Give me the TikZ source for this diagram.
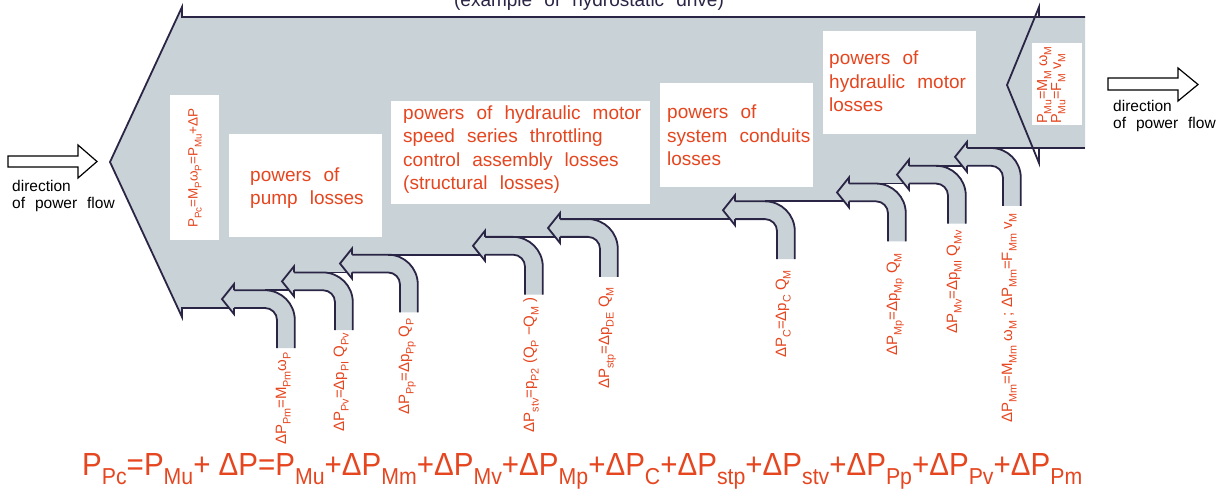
\documentclass[tikz,border=0pt]{standalone}
\usepackage{fontspec}
\setmainfont{Liberation Sans}[WordSpace=2.3]
\newfontfamily\lblfont{Liberation Sans}
\definecolor{bandgray}{HTML}{C8D2D7}
\definecolor{edgecol}{HTML}{2A2545}
\definecolor{txtred}{HTML}{E5461F}
\newcommand\sbs[1]{\raisebox{-0.3em}{\scalebox{0.72}{#1}}}
\newcommand\bandsetup{%
  \pgfmathsetmacro\Lt{308-17.78*\bi}%
  \pgfmathsetmacro\Lb{\Lt+17.78}%
  \pgfmathsetmacro\Cy{\Lt+8.89}%
  \pgfmathsetmacro\Bx{\tp+12}%
  \pgfmathsetmacro\Ey{\Lb+40}%
  \pgfmathsetmacro\Ca{\X-12}%
  \pgfmathsetmacro\Xo{\X+17.78}%
}
\newcommand\banddata{1/222/277/294, 2/282/335/352, 3/340/400/485, 4/473/525/560, 5/548/600/735, 6/723/777/849, 7/837/888/909, 8/897/948/967, 9/955/1003/1085}
\begin{document}
\begin{tikzpicture}[x=1pt,y=-1pt,line join=miter,
  boxtxt/.style={anchor=base west,inner sep=0pt,text=txtred,font=\fontsize{19}{23}\selectfont},
  lbl/.style={rotate=90,anchor=base east,inner sep=0pt,text=txtred,font=\lblfont\fontsize{15}{16}\selectfont},
  rtxt/.style={rotate=90,inner sep=0pt,text=txtred,font=\lblfont\fontsize{14.5}{16}\selectfont},
  dirtxt/.style={anchor=base west,inner sep=0pt,text=black,font=\fontsize{15.5}{18}\selectfont},
  outl/.style={draw=edgecol,line width=1.8pt},
  hollow/.style={draw=black,line width=1.2pt,fill=white}]
\useasboundingbox (0,0) rectangle (1220,491);

% main body fill
\fill[bandgray] (182,17) -- (1085,17) -- (1085,148) -- (967,148) -- (967,165.76) -- (909,165.76)
  -- (909,183.54) -- (849,183.54) -- (849,201.32) -- (735,201.32) -- (735,219.1) -- (560,219.1)
  -- (560,236.88) -- (485,236.88) -- (485,254.66) -- (352,254.66) -- (352,272.44) -- (294,272.44)
  -- (294,290.22) -- (234,290.22) -- (234,308) -- (182,308) -- (182,317) -- (110,162) -- (182,7) -- cycle;

% band fills
\foreach \bi/\tp/\X/\nb in \banddata {\bandsetup
  \fill[bandgray] (\Bx,\Lt) -- (\Ca,\Lt) .. controls (\Ca+16.45,\Lt) and (\Xo,\Lt+13.33) .. (\Xo,\Lt+29.78)
    -- (\Xo,\Ey) -- (\X,\Ey) -- (\X,\Lb+12) .. controls (\X,\Lb+5.37) and (\Ca+6.63,\Lb) .. (\Ca,\Lb)
    -- (\Bx,\Lb) -- cycle;
}

% outlines
\draw[outl] (1085,17) -- (182,17) -- (182,7) -- (110,162) -- (182,317) -- (182,308) -- (234,308);
\draw[outl] (1039,17) -- (1039,7) -- (1007,85) -- (1039,163) -- (1039,148);
\foreach \bi/\tp/\X/\nb in \banddata {\bandsetup
  \draw[outl] (\Bx,\Lb) -- (\Ca,\Lb) .. controls (\Ca+6.63,\Lb) and (\X,\Lb+5.37) .. (\X,\Lb+12) -- (\X,\Ey);
  \draw[outl] (\Bx,\Lt) -- (\Ca,\Lt) .. controls (\Ca+16.45,\Lt) and (\Xo,\Lt+13.33) .. (\Xo,\Lt+29.78) -- (\Xo,\Ey);
  \draw[outl] (\Ca,\Lt) -- (\nb,\Lt);
}
% arrow heads
\foreach \bi/\tp/\X/\nb in \banddata {\bandsetup
  \fill[bandgray] (\Bx,\Cy-15) -- (\tp,\Cy) -- (\Bx,\Cy+15) -- cycle;
  \draw[outl] (\Bx,\Lt) -- (\Bx,\Cy-15) -- (\tp,\Cy) -- (\Bx,\Cy+15) -- (\Bx,\Lb);
}

% white boxes
\fill[white] (170,95) rectangle (219,240);
\fill[white] (229,134) rectangle (382,237);
\fill[white] (391,101) rectangle (650,204);
\fill[white] (660,83) rectangle (813,187);
\fill[white] (823,31) rectangle (976,134);
\fill[white] (1032,43) rectangle (1082,125);

% title (cut off at the top, as in the reference)
\node[anchor=base,inner sep=0pt,text=edgecol,font=\fontsize{19}{23}\selectfont] (title) at (589,6) {(example of hydrostatic drive)};

% box texts
\node[rtxt,font=\lblfont\fontsize{13.5}{16}\selectfont] (pa) at (195,168) {P\sbs{Pc}=M\sbs{P}ω\sbs{P}=P\sbs{Mu}+ΔP};
\node[boxtxt] (b1) at (250,181) {powers of};
\node[boxtxt] (b2) at (250,204) {pump losses};
\node[boxtxt] (c1) at (403,119) {powers of hydraulic motor};
\node[boxtxt] (c2) at (403,142.5) {speed series throttling};
\node[boxtxt] (c3) at (403,166) {control assembly losses};
\node[boxtxt] (c4) at (403,189.5) {(structural losses)};
\node[boxtxt] (d1) at (667,118) {powers of};
\node[boxtxt] (d2) at (667,142) {system conduits};
\node[boxtxt] (d3) at (667,165) {losses};
\node[boxtxt] (e1) at (829,64) {powers of};
\node[boxtxt] (e2) at (829,88) {hydraulic motor};
\node[boxtxt] (e3) at (829,111) {losses};
\node[rtxt,anchor=base west] (f1) at (1047,124) {P\sbs{Mu}=M\sbs{M} ω\sbs{M}};
\node[rtxt,anchor=base west] (f2) at (1061,124) {P\sbs{Mu}=F\sbs{M} v\sbs{M}};

% loss labels
\node[lbl] (l1) at (286,352) {ΔP\sbs{Pm}=M\sbs{Pm}ω\sbs{P}};
\node[lbl] (l2) at (344,333) {ΔP\sbs{Pv}=Δp\sbs{PI} Q\sbs{Pv}};
\node[lbl] (l3) at (409,318) {ΔP\sbs{Pp}=Δp\sbs{Pp} Q\sbs{P}};
\node[lbl] (l4) at (534,297) {ΔP\sbs{stv}=p\sbs{P2} (Q\sbs{P} −Q\sbs{M} )};
\node[lbl] (l5) at (609,287) {ΔP\sbs{stp}=Δp\sbs{DE} Q\sbs{M}};
\node[lbl] (l6) at (786,270) {ΔP\sbs{C}=Δp\sbs{C} Q\sbs{M}};
\node[lbl] (l7) at (897,253) {ΔP\sbs{Mp}=Δp\sbs{Mp} Q\sbs{M}};
\node[lbl] (l8) at (957,230) {ΔP\sbs{Mv}=Δp\sbs{MI} Q\sbs{Mv}};
\node[lbl] (l9) at (1012,213) {ΔP\sbs{Mm}=M\sbs{Mm} ω\sbs{M} ; ΔP\sbs{Mm}=F\sbs{Mm} v\sbs{M}};

% direction of power flow
\draw[hollow] (8,156) -- (78,156) -- (78,145) -- (97,161.5) -- (78,178) -- (78,167) -- (8,167) -- cycle;
\node[dirtxt] (dl1) at (12,191) {direction};
\node[dirtxt] (dl2) at (12,208) {of power flow};
\draw[hollow] (1108,78) -- (1178,78) -- (1178,68) -- (1198,84.5) -- (1178,101) -- (1178,90) -- (1108,90) -- cycle;
\node[dirtxt] (dr1) at (1113,111) {direction};
\node[dirtxt] (dr2) at (1113,128) {of power flow};

% balance equation
\node[anchor=base west,inner sep=0pt,text=txtred,font=\lblfont\fontsize{32}{36}\selectfont] (eq) at (82,475)
  {\resizebox{1000pt}{\height}{P\sbs{Pc}=P\sbs{Mu}+ ΔP=P\sbs{Mu}+ΔP\sbs{Mm}+ΔP\sbs{Mv}+ΔP\sbs{Mp}+ΔP\sbs{C}+ΔP\sbs{stp}+ΔP\sbs{stv}+ΔP\sbs{Pp}+ΔP\sbs{Pv}+ΔP\sbs{Pm}}};
\end{tikzpicture}
\end{document}
